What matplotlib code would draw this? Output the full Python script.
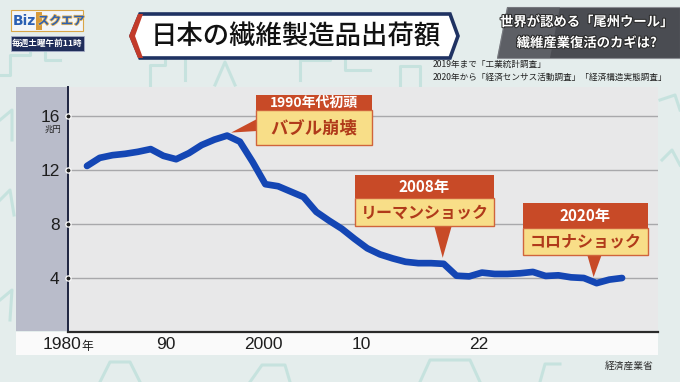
import matplotlib
matplotlib.use('Agg')
import matplotlib.pyplot as plt
import matplotlib.patches as mpatches
import matplotlib.patheffects as pe
from matplotlib.transforms import Affine2D

plt.rcParams['font.family'] = ['Noto Sans CJK JP', 'DejaVu Sans']

# ---------------- data ----------------
years = list(range(1980, 2023))
values = [12.3, 12.9, 13.1, 13.2, 13.35, 13.55, 13.05, 12.8, 13.25, 13.85,
          14.25, 14.55, 14.1, 12.6, 10.95, 10.8, 10.4, 10.0, 8.9, 8.25,
          7.65, 6.9, 6.2, 5.75, 5.45, 5.2, 5.1, 5.1, 5.05, 4.17,
          4.12, 4.4, 4.3, 4.3, 4.35, 4.45, 4.15, 4.2, 4.05, 4.0,
          3.62, 3.88, 4.0]
ytick_vals = [4, 8, 12, 16]
xtick_years = [1980, 1990, 2000, 2010, 2022]
xtick_labels = ['1980年', '90', '2000', '10', '22']
callout_years = [1991, 2008, 2020]
callout_titles = ['1990年代初頭', '2008年', '2020年']
callout_texts = ['バブル崩壊', 'リーマンショック', 'コロナショック']

W, H = 680, 382
fig = plt.figure(figsize=(W / 100, H / 100), dpi=100)
fig.patch.set_facecolor('#e4edec')
PX = Affine2D().scale(1 / W, -1 / H).translate(0, 1) + fig.transFigure


def rect(x0, y0, x1, y1, z=1, **kw):
    fig.add_artist(mpatches.Rectangle((x0, y0), x1 - x0, y1 - y0, transform=PX, zorder=z, **kw))


def poly(pts, z=1, **kw):
    fig.add_artist(mpatches.Polygon(pts, closed=True, transform=PX, zorder=z, **kw))


def txt(x, y, s, z=6, **kw):
    fig.text(x, y, s, transform=PX, zorder=z, **kw)


# faint decorative background outlines
deco = [
    [(0, 75), (10, 75), (10, 55), (30, 55), (30, 40), (45, 40), (45, 60), (60, 60)],
    [(150, 85), (150, 65), (165, 65), (165, 50), (185, 50), (185, 80)],
    [(215, 85), (225, 62), (235, 85)],
    [(300, 80), (300, 60), (330, 60), (330, 45), (345, 45), (345, 70), (370, 70)],
    [(400, 85), (400, 66), (420, 66), (420, 85)],
    [(660, 100), (675, 95), (680, 110)],
    [(662, 160), (672, 150), (680, 165)],
    [(0, 120), (12, 110), (12, 140)],
    [(0, 200), (10, 190), (14, 215)],
    [(0, 300), (12, 290), (10, 320)],
    [(100, 382), (110, 362), (130, 362), (140, 382)],
    [(250, 382), (262, 365), (285, 365), (290, 382)],
    [(420, 382), (430, 360), (470, 360), (480, 382)],
    [(540, 382), (545, 364), (560, 364)],
]
for d in deco:
    xs = [p[0] / W for p in d]
    ys = [1 - p[1] / H for p in d]
    fig.add_artist(plt.Line2D(xs, ys, color='#a9d9d1', lw=2.2, alpha=0.5, zorder=0.5))

# chart panel + left band
rect(16, 87, 658, 331, z=1, fc='#e8e8e9', ec='none')
rect(16, 87, 68, 331, z=1.1, fc='#b9bcca', ec='none')

# main axes
ax = fig.add_axes([68 / W, 1 - 332 / H, (658 - 68) / W, (332 - 87) / H])
ax.set_zorder(2)
ax.patch.set_alpha(0)
ax.set_xlim(1978.51, 2024.82)
ax.set_ylim(0, 18.15)
ax.set_xticks([])
ax.set_yticks(ytick_vals)
ax.set_yticklabels([str(v) for v in ytick_vals], family=['Liberation Sans', 'DejaVu Sans'],
                   fontsize=12.5, color='#1e1e1e')
ax.tick_params(axis='y', length=0, pad=6)
ax.yaxis.grid(True, color='#a8a8ab', lw=1)
ax.set_axisbelow(True)
for s in ['top', 'right']:
    ax.spines[s].set_visible(False)
ax.spines['left'].set_color('#1d2340')
ax.spines['left'].set_linewidth(1.4)
ax.spines['bottom'].set_color('#2a2a2a')
ax.spines['bottom'].set_linewidth(1.6)
ax.scatter([ax.get_xlim()[0]] * len(ytick_vals), ytick_vals, s=14, c='#1e1e1e',
           edgecolors='white', linewidths=0.9, zorder=6, clip_on=False)
ax.plot(years, values, color='#1446b4', lw=4.8, solid_capstyle='round',
        solid_joinstyle='round', zorder=4)
txt(53, 129, '兆円', fontsize=6, ha='center', va='center', color='#222')

# x label strip
sax = fig.add_axes([16 / W, 1 - 355 / H, (658 - 16) / W, (355 - 332) / H])
sax.set_facecolor('#fafafa')
sax.set_xlim(1974.68, 2040.39)
sax.set_ylim(0, 1)
sax.set_xticks([])
sax.set_yticks([])
for s in sax.spines.values():
    s.set_visible(False)
for yr, lab in zip(xtick_years, xtick_labels):
    if lab.endswith('年'):
        sax.annotate(lab[:-1], xy=(yr, 0.45), xytext=(10, 0), textcoords='offset points',
                     ha='right', va='center', fontsize=12.5, color='#1e1e1e',
                     family=['Liberation Sans', 'DejaVu Sans'])
        sax.annotate('年', xy=(yr, 0.45), xytext=(10, -1), textcoords='offset points',
                     ha='left', va='center', fontsize=8.5, color='#1e1e1e')
    else:
        sax.text(yr, 0.45, lab, ha='center', va='center', fontsize=12.5, color='#1e1e1e',
                 family=['Liberation Sans', 'DejaVu Sans'])
txt(629, 366, '経済産業省', fontsize=7, ha='center', va='center', color='#2a2a2a')

# callouts
fig.canvas.draw()
def data_px(x, y):
    dx, dy = ax.transData.transform((x, y))
    return dx, H - dy

boxes = [
    dict(x0=256, x1=372, y0=95, ym=110, y1=145, fs1=10, fs2=12.5,
         base=[(257, 119), (257, 131)], off=(4, -3)),
    dict(x0=355, x1=494, y0=175, ym=198, y1=226, fs1=11, fs2=11.5,
         base=[(434, 225), (452, 225)], off=(-1, -6)),
    dict(x0=523, x1=648, y0=203, ym=228, y1=255, fs1=11, fs2=11.5,
         base=[(587, 254), (602, 254)], off=(-3, -6)),
]
red = '#c84a27'
for b, yr, t1, t2 in zip(boxes, callout_years, callout_titles, callout_texts):
    px, py = data_px(yr, values[years.index(yr)])
    tip = (px + b['off'][0], py + b['off'][1])
    poly([b['base'][0], b['base'][1], tip], z=3, fc=red, ec='none')
    rect(b['x0'], b['ym'], b['x1'], b['y1'], z=3, fc='#f8de88', ec='#d0643c', lw=1)
    rect(b['x0'], b['y0'], b['x1'], b['ym'], z=3.1, fc=red, ec='none')
    cx = (b['x0'] + b['x1']) / 2
    txt(cx, (b['y0'] + b['ym']) / 2 + 0.5, t1, fontsize=b['fs1'], fontweight='bold',
        color='white', ha='center', va='center')
    txt(cx, (b['ym'] + b['y1']) / 2 + 0.5, t2, fontsize=b['fs2'], fontweight='bold',
        color='#b03a1a', ha='center', va='center')

# title banner
poly([(131, 36), (140, 14), (450, 14), (458, 36), (450, 58), (140, 58)], z=3,
     fc='white', ec='#1f3262', lw=2.6)
poly([(129, 36), (138, 14), (143, 14), (135, 36), (143, 58), (138, 58)], z=3.2,
     fc='#c23b2a', ec='none')
txt(296, 37, '日本の繊維製造品出荷額', fontsize=19, ha='center', va='center',
    color='#111111', fontweight='medium')

# right subtitle box
poly([(507, 7), (680, 7), (680, 58), (497, 58)], z=3, fc='#4a4c52', ec='#8a8c92', lw=0.8)
poly([(507, 7), (560, 7), (550, 58), (497, 58)], z=3.05, fc='#6a6c72', ec='none', alpha=0.6)
for yy, s in [(22, '世界が認める「尾州ウール」'), (43, '繊維産業復活のカギは?')]:
    txt(587, yy, s, fontsize=9.6, ha='center', va='center', color='white', fontweight='bold',
        path_effects=[pe.withStroke(linewidth=1.5, foreground='#2a2a2a')])

# notes
txt(433, 64, '2019年まで「工業統計調査」', fontsize=6.2, ha='left', va='center', color='#222')
txt(433, 77, '2020年から「経済センサス活動調査」「経済構造実態調査」', fontsize=6.2,
    ha='left', va='center', color='#222')

# logo
rect(11, 10, 83, 31, z=3, fc='#f3f5f8', ec='#d9a648', lw=0.8)
txt(24, 21, 'Biz', fontsize=10, fontweight='bold', color='#2b5fb3', ha='center', va='center',
    family=['DejaVu Sans'])
rect(36, 12, 42, 30, z=3.5, fc='#d89a3a', ec='none')
txt(61, 21, 'スクエア', fontsize=8.5, fontweight='bold', color='#2b5fb3', ha='center', va='center',
    path_effects=[pe.withStroke(linewidth=1.2, foreground='#e6b45a')])
rect(11, 36, 84, 51, z=3, fc='#1f2d5a', ec='#a3abc4', lw=0.6)
txt(47.5, 43.5, '毎週土曜午前11時', fontsize=6.2, fontweight='bold', color='white',
    ha='center', va='center')

fig.savefig('out.png', dpi=100)
